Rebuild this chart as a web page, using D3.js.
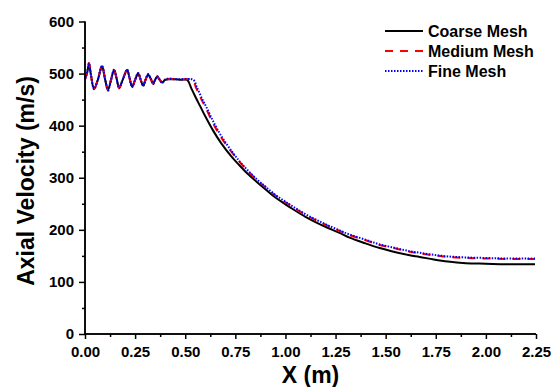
<!DOCTYPE html>
<html>
<head>
<meta charset="utf-8">
<script src="https://cdn.jsdelivr.net/npm/d3@7"></script>
<style>
  body { margin: 0; background: #fff; }
  text { font-family: Arial, "Liberation Sans", sans-serif; font-weight: bold; }
</style>
</head>
<body>
<script>
// oscillating inlet part (X in m, V in m/s)
const oscX = [0, 0.01, 0.02, 0.03, 0.045, 0.065, 0.085, 0.1, 0.115, 0.13, 0.145, 0.158, 0.17, 0.19, 0.21, 0.222, 0.235, 0.25, 0.265, 0.278, 0.29, 0.302, 0.315, 0.328, 0.34, 0.35, 0.36, 0.373, 0.385, 0.4, 0.425, 0.45, 0.48];
const oscCoarse = [490, 500, 519, 496, 471, 489, 514, 489, 469, 488, 507, 490, 473, 490, 507, 492, 475, 488, 500, 488, 477, 488, 498, 490, 481, 488, 494, 488, 483, 488, 489, 489, 488];
const oscMedium = [488, 502, 521, 497, 470, 490, 516, 490, 467, 488, 508, 490, 472, 490, 508, 492, 474, 488, 501, 488, 476, 488, 499, 490, 480, 488, 495, 488, 482, 488, 490, 489, 489];
const oscFine = [489, 501, 520, 497, 470, 490, 515, 490, 468, 488, 508, 490, 472, 490, 508, 492, 474, 488, 501, 488, 476, 488, 499, 490, 480, 488, 495, 488, 482, 489, 490, 489, 489];

// decay part
const coarseX = [0.51, 0.53, 0.55, 0.575, 0.6, 0.64, 0.68, 0.73, 0.77, 0.81, 0.86, 0.9, 0.95, 1.0, 1.04, 1.1, 1.16, 1.21, 1.27, 1.32, 1.4, 1.47, 1.55, 1.62, 1.67, 1.74, 1.81, 1.9, 2.0, 2.1, 2.245];
const coarseV = [488, 472, 456, 437, 418, 390, 366, 341, 324, 308, 291, 278, 262, 249, 239, 225, 213, 204, 194, 185, 174, 165, 157, 151, 148, 143, 139, 136, 135, 134, 134];
const mediumX = [0.535, 0.555, 0.58, 0.6, 0.64, 0.68, 0.73, 0.77, 0.81, 0.86, 0.9, 0.95, 1.0, 1.04, 1.1, 1.16, 1.21, 1.27, 1.32, 1.4, 1.47, 1.55, 1.62, 1.67, 1.74, 1.81, 1.9, 2.0, 2.1, 2.245];
const mediumV = [488, 472, 451, 436, 404, 377, 350, 331, 314, 295, 282, 266, 253, 243, 229, 217, 208, 198, 190, 180, 171, 164, 158, 155, 151, 148, 146, 145, 144, 144];
const fineX = [0.54, 0.56, 0.585, 0.605, 0.64, 0.68, 0.73, 0.77, 0.81, 0.86, 0.9, 0.95, 1.0, 1.04, 1.1, 1.16, 1.21, 1.27, 1.32, 1.4, 1.47, 1.55, 1.62, 1.67, 1.74, 1.81, 1.9, 2.0, 2.1, 2.245];
const fineV = [488, 472, 451, 436, 408, 380, 352, 332, 315, 296, 283, 267, 254, 244, 230, 218, 209, 199, 191, 181, 172, 165, 159, 156, 152, 149, 147, 146, 145, 145];

const xTicks = [0, 0.25, 0.5, 0.75, 1.0, 1.25, 1.5, 1.75, 2.0, 2.25];
const yTicks = [0, 100, 200, 300, 400, 500, 600];

const series = [
  { name: "Coarse Mesh", x: oscX.concat(coarseX), v: oscCoarse.concat(coarseV), color: "#000", dash: null, width: 2 },
  { name: "Medium Mesh", x: oscX.concat(mediumX), v: oscMedium.concat(mediumV), color: "#ff0000", dash: "8,7", width: 2 },
  { name: "Fine Mesh", x: oscX.concat(fineX), v: oscFine.concat(fineV), color: "#0000ff", dash: "1.5,1.5", width: 2 }
];

const w = 553;
const h = 387;
const m = { left: 85, right: 536, top: 21.5, bottom: 334 };

const xScale = d3.scaleLinear().domain([0, 2.25]).range([m.left, m.right]);
const yScale = d3.scaleLinear().domain([0, 600]).range([m.bottom, m.top]);

const svg = d3.select("body").append("svg").attr("width", w).attr("height", h);

// lines
const line = d3.line()
  .x((d) => xScale(d[0]))
  .y((d) => yScale(d[1]))
  .curve(d3.curveCatmullRom.alpha(0.5));

series.forEach((s) => {
  const pts = s.x.map((x, i) => [x, s.v[i]]);
  svg.append("path")
    .datum(pts)
    .attr("d", line)
    .attr("fill", "none")
    .attr("stroke", s.color)
    .attr("stroke-width", s.width)
    .attr("stroke-dasharray", s.dash);
});

// minor ticks
const xMinor = d3.range(0.125, 2.25, 0.25);
const yMinor = d3.range(50, 600, 100);

const xAxis = d3.axisBottom(xScale).tickValues(xTicks).tickFormat(d3.format(".2f")).tickSize(5).tickPadding(7);
const yAxis = d3.axisLeft(yScale).tickValues(yTicks).tickFormat(d3.format("d")).tickSize(6).tickPadding(5);

const gx = svg.append("g").attr("class", "x axis").attr("transform", `translate(0, ${m.bottom})`);
gx.append("g").call(d3.axisBottom(xScale).tickValues(xMinor).tickFormat("").tickSize(3).tickSizeOuter(0));
gx.append("g").call(xAxis);

const gy = svg.append("g").attr("class", "y axis").attr("transform", `translate(${m.left}, 0)`);
gy.append("g").call(d3.axisLeft(yScale).tickValues(yMinor).tickFormat("").tickSize(3).tickSizeOuter(0));
gy.append("g").call(yAxis);

svg.selectAll(".axis path, .axis line").attr("stroke", "#000").attr("stroke-width", 1.5);
gx.selectAll(".domain").attr("d", `M${m.left},0H${m.right}`);
gy.selectAll(".domain").attr("d", `M0,${m.bottom}V${m.top}`);
svg.selectAll(".axis text").attr("font-size", 15).attr("font-family", "Arial, 'Liberation Sans', sans-serif").attr("font-weight", "bold").attr("fill", "#000");

// axis titles
svg.append("text")
  .attr("x", (m.left + m.right) / 2)
  .attr("y", 383)
  .attr("text-anchor", "middle")
  .attr("font-size", 23)
  .text("X (m)");

svg.append("text")
  .attr("transform", "rotate(-90)")
  .attr("x", -181)
  .attr("y", 34)
  .attr("text-anchor", "middle")
  .attr("font-size", 23)
  .text("Axial Velocity (m/s)");

// legend
const legend = svg.append("g");
series.forEach((s, i) => {
  const y = 31 + i * 20;
  legend.append("line")
    .attr("x1", 385).attr("x2", 423)
    .attr("y1", y).attr("y2", y)
    .attr("stroke", s.color)
    .attr("stroke-width", s.width)
    .attr("stroke-dasharray", s.dash);
  legend.append("text")
    .attr("x", 428)
    .attr("y", y + 6)
    .attr("font-size", 16)
    .text(s.name);
});
</script>
</body>
</html>
